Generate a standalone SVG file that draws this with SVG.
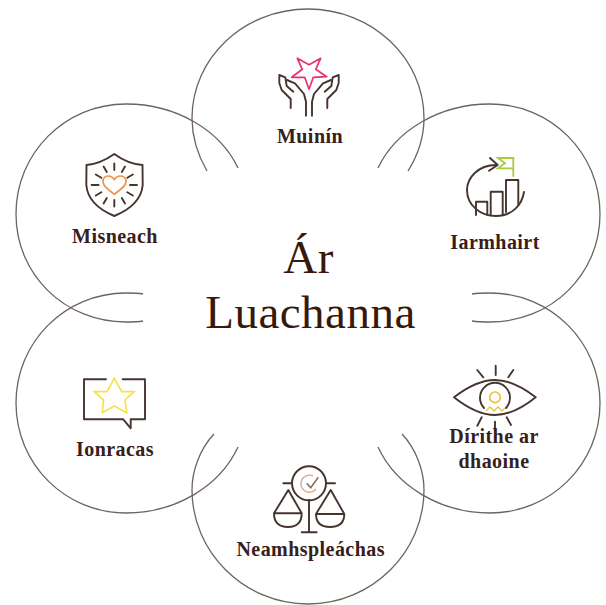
<svg xmlns="http://www.w3.org/2000/svg" width="606" height="605" viewBox="0 0 606 605">
<style>
.arc{fill:none;stroke:#6d6360;stroke-width:1.3}
.ic{fill:none;stroke:#46342f;stroke-width:1.9;stroke-linejoin:round;stroke-linecap:round}
.lb{font-family:"Liberation Serif","Times New Roman",serif;font-weight:700;font-size:20px;letter-spacing:.45px;fill:#38201a;text-anchor:middle}
.ti{font-family:"Liberation Serif","Times New Roman",serif;font-size:47px;letter-spacing:.5px;fill:#3a1808;text-anchor:middle}
</style>
<rect width="606" height="605" fill="#fff"/>
<g id="connectors">
<path class="arc" d="M207 171C196 152 192 135 192 118C192 58 244 9 308 9C372 9 424 58 424 118C424 135 420 152 408 171"/>
<path class="arc" d="M378 168C396 130 440 104 490 104C551 104 600 153 600 214C600 275 551 322 490 322C484 322 478 322 472 321"/>
<path class="arc" d="M472 294C478 293 484 293 490 293C551 293 600 342 600 403C600 464 551 513 490 513C440 513 396 486 378 447"/>
<path class="arc" d="M214 434C199 450 192 472 192 490C192 552 244 604 308 604C372 604 424 552 424 490C424 472 417 450 402 434"/>
<path class="arc" d="M238 447C220 486 176 513 126 513C65 513 16 464 16 403C16 342 65 293 126 293C132 293 138 293 143 294"/>
<path class="arc" d="M143 321C138 322 132 322 126 322C65 322 16 275 16 214C16 153 65 104 126 104C176 104 220 130 238 168"/>
</g>
<g id="title">
<text class="ti" x="308.5" y="273">Ár</text>
<text class="ti" x="310.5" y="328">Luachanna</text>
</g>
<g id="muinin">
<g class="ic">
<path d="M290.7 108V99L281.7 90L279.3 83V75L285.3 77.3L286.7 86L293.3 91.7"/>
<path d="M287 80L295 83.3L304 94L306 101.7V115.7"/>
<path d="M327.3 108V99L336.3 90L338.7 83V75L332.7 77.3L331.3 86L324.7 91.7"/>
<path d="M331 80L323 83.3L314 94L312 101.7V115.7"/>
</g>
<polygon points="297.3,58.3 309,64.7 320.7,58.3 315.7,69.3 326.7,76.7 313.3,77.3 309,89.3 304.7,77.3 291.7,77.3 302.3,69.3" fill="none" stroke="#e8336b" stroke-width="1.7" stroke-linejoin="round"/>
<text class="lb" x="310" y="143">Muinín</text>
</g>
<g id="iarmhairt">
<g class="ic">
<path d="M496 165C478 165 467 178 467 190C467 205 480 216 496 216C512 216 522 205 524 192"/>
<path d="M490 158L497.7 165L489 170.7"/>
<path d="M476 215V201.7H487.3V215"/>
<path d="M490.7 215V191.7H502.700V215"/>
<path d="M506 212V180H518.300V205"/>
</g>
<path d="M498 158H513.300V168.300H498L505 163.300ZM513.300 168V176.700" fill="none" stroke="#a9cc3a" stroke-width="1.8"/>
<text class="lb" x="495" y="249">Iarmhairt</text>
</g>
<g id="dirithe">
<g class="ic">
<path d="M454 397.300C470 385 482 380 495 380C508 380 520 385 535.700 397.300C520 410 508 415 495 415C482 415 470 410 454 397.300Z"/>
<path d="M484 408A15 15 0 1 1 506 408"/>
<path d="M495.700 365.700V375M477.300 370L483.300 377.300M513.300 370L508.300 377.300M495 421.700V430M481.700 417.300L477.300 425.700M506.700 417.300L511 425"/>
</g>
<circle cx="495" cy="397.300" r="5.300" fill="none" stroke="#f0c040" stroke-width="1.700"/>
<path d="M486 411L490 407L494 411L498 407L502 411L505 408" fill="none" stroke="#f0c040" stroke-width="1.300"/>
<text class="lb" x="494" y="443">Dírithe ar</text>
<text class="lb" x="494" y="468">dhaoine</text>
</g>
<g id="neamhspleachas">
<g class="ic">
<circle cx="309" cy="483.300" r="17"/>
<path d="M283.300 483.300H292M326 483.300H335M309 500V531.700M301.700 532.300H316.700"/>
<path d="M288.300 490L274 513.300H301.700ZM274 513.300Q274 527 288 527Q301.700 527 301.700 513.300"/>
<path d="M330.700 490L316 514H344.300ZM316 514Q316 527 330 527Q344.300 527 344.300 514"/>
</g>
<path d="M313 476A8.500 8.500 0 1 0 316 489" fill="none" stroke="#e0a888" stroke-width="1.400"/>
<path d="M306.700 483.300L310.700 487.700L318.300 477.300" fill="none" stroke="#8a6a5a" stroke-width="1.500"/>
<text class="lb" x="310.700" y="555.600">Neamhspleáchas</text>
</g>
<g id="ionracas">
<path class="ic" d="M106 379.300H84V419.300H123.300L130.700 428.300V419.300H145V379.300H122.700"/>
<polygon points="114.300,378.300 121.700,391.700 134,391.700 125,400 126.700,412.700 114.300,406 102.300,412.700 103.500,400 94.300,391.700 107,391.700" fill="none" stroke="#f5e24a" stroke-width="1.700"/>
<text class="lb" x="115" y="455.700">Ionracas</text>
</g>
<g id="misneach">
<path class="ic" d="M114.300 154Q100 164 86.500 165L86.300 185Q88 205 114.300 216Q141 205 142.700 185L142.500 165Q128 164 114.300 154Z"/>
<path class="ic" d="M114.300 163.500V170M125 166.500L121.800 172M132.800 174.500L127.300 177.700M137 185H130M132.800 195.500L127.300 192.300M125 203.500L121.800 198M114.300 206.500V200M103.600 203.500L106.800 198M95.800 195.500L101.300 192.300M91.600 185H98.600M95.800 174.500L101.300 177.700M103.600 166.500L106.800 172"/>
<path d="M114.300 194.300C108 189.500 103 186 103 181.500C103 177.500 106 176 108.500 176C111 176 113 177.500 114.300 179.500C115.600 177.500 117.600 176 120 176C122.600 176 126 177.500 126 181.500C126 186 120.600 189.500 114.300 194.300Z" fill="none" stroke="#f0924a" stroke-width="1.700"/>
<text class="lb" x="115" y="243">Misneach</text>
</g>
</svg>
